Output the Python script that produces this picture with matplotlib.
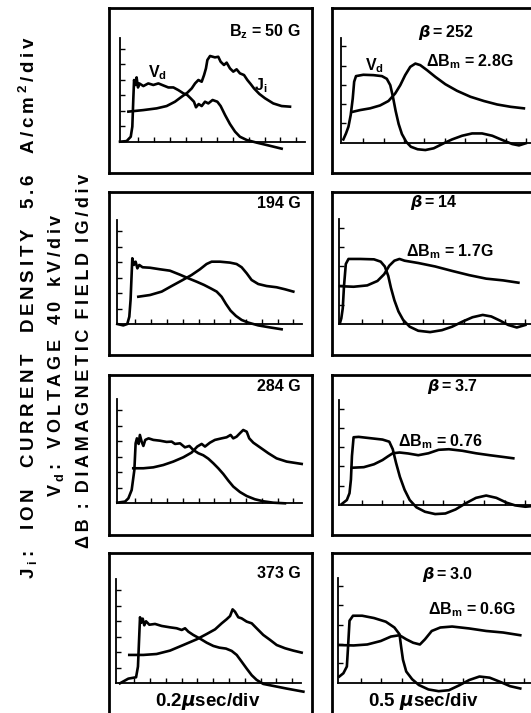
import re
import numpy as np
import matplotlib
matplotlib.use('Agg')
import matplotlib.pyplot as plt

# figure size in pixels (dpi 100)
W, H = 531, 713

plt.rcParams['font.family'] = ['Liberation Sans', 'DejaVu Sans']
plt.rcParams['font.weight'] = 'bold'
plt.rcParams['mathtext.default'] = 'regular'

# data, in scope divisions (x: time div, y: vertical div above baseline)
# left column : Vd and Ji, 0.2 usec/div
bz050_vd_x = [0, 0.42, 0.68, 0.78, 0.84, 0.89, 0.97, 1.05, 1.14, 1.22, 1.48, 1.79, 2.11, 2.43, 2.74, 3.06,
              3.38, 3.69, 4.01, 4.26, 4.47, 4.68, 4.81, 4.98, 5.17, 5.38, 5.59, 5.86, 6.16, 6.37, 6.65,
              6.96, 7.28, 7.59, 8.02, 8.65, 9.39, 10.23]
bz050_vd_y = [0, 0.04, 0.32, 0.97, 2.69, 3.98, 3.66, 4.15, 3.5, 3.76, 3.59, 3.76, 3.66, 3.76, 3.63, 3.5,
              3.5, 3.33, 3.12, 3.01, 2.8, 2.58, 2.22, 2.43, 2.3, 2.58, 2.47, 2.69, 2.58, 2.3, 1.72,
              1.14, 0.65, 0.32, 0.11, -0.06, -0.24, -0.45]
bz050_ji_x = [0.53, 1.48, 2.32, 2.95, 3.48, 3.90, 4.26, 4.54, 4.75, 4.96, 5.17, 5.32, 5.44, 5.53, 5.70,
              6.01, 6.22, 6.37, 6.58, 6.75, 6.96, 7.17, 7.38, 7.59, 7.85, 8.06, 8.27, 8.48, 8.82, 9.18,
              9.70, 10.23, 10.76]
bz050_ji_y = [1.94, 2.04, 2.15, 2.30, 2.58, 2.90, 3.16, 3.44, 3.76, 3.98, 3.87, 4.30, 4.73, 5.27, 5.53,
              5.44, 5.48, 5.16, 4.95, 5.10, 4.73, 4.52, 4.67, 4.41, 4.30, 3.98, 3.72, 3.44, 3.08, 2.80,
              2.47, 2.30, 2.26]

bz194_vd_x = [0, 0.38, 0.63, 0.76, 0.84, 0.91, 0.95, 1.05, 1.16, 1.27, 1.39, 1.60, 2.07, 2.70, 3.33, 3.97,
              4.49, 5.02, 5.49, 5.91, 6.29, 6.60, 6.88, 7.17, 7.51, 7.87, 8.29, 8.92, 9.66, 10.40]
bz194_vd_y = [0, -0.09, 0, 0.47, 1.55, 3.27, 4.24, 3.81, 4.02, 3.59, 3.81, 3.66, 3.63, 3.53, 3.44, 3.18,
              2.95, 2.73, 2.52, 2.30, 2.09, 1.76, 1.29, 0.86, 0.52, 0.26, 0.09, -0.09, -0.22, -0.34]
bz194_ji_x = [1.33, 2.07, 2.81, 3.44, 4.07, 4.70, 5.23, 5.65, 5.97, 6.50, 7.13, 7.55, 7.87, 8.19, 8.50,
              8.92, 9.45, 10.08, 10.61, 11.14]
bz194_ji_y = [1.76, 1.87, 2.09, 2.45, 2.80, 3.16, 3.53, 3.87, 4.02, 4.02, 3.96, 3.87, 3.66, 3.27, 2.84,
              2.58, 2.45, 2.37, 2.24, 2.09]

bz284_vd_x = [0, 0.49, 0.70, 0.91, 1.08, 1.16, 1.24, 1.35, 1.43, 1.54, 1.65, 1.77, 1.98, 2.28, 2.70, 3.12,
              3.44, 3.65, 3.97, 4.28, 4.56, 4.81, 5.13, 5.44, 5.76, 6.08, 6.39, 6.71, 7.03, 7.34, 7.76,
              8.19, 8.71, 9.24, 9.87, 10.61]
bz284_vd_y = [0.04, 0.11, 0.32, 0.86, 2.15, 3.87, 4.19, 3.83, 4.41, 3.98, 3.70, 4.09, 4.19, 4.09, 4.04, 3.96,
              3.98, 3.83, 3.87, 3.61, 3.70, 3.44, 3.23, 3.10, 2.88, 2.58, 2.26, 1.89, 1.46, 1.08, 0.73,
              0.47, 0.26, 0.13, 0.04, 0]
bz284_ji_x = [1.01, 1.65, 2.28, 2.91, 3.54, 4.18, 4.70, 5.06, 5.34, 5.55, 5.86, 6.18, 6.60, 6.92, 7.17,
              7.34, 7.55, 7.76, 7.97, 8.19, 8.35, 8.61, 9.03, 9.56, 10.08, 10.72, 11.67]
bz284_ji_y = [2.26, 2.26, 2.32, 2.47, 2.69, 2.97, 3.27, 3.66, 3.83, 3.66, 3.91, 4.09, 4.19, 4.26, 4.41,
              4.19, 4.30, 4.52, 4.73, 4.62, 4.19, 3.91, 3.61, 3.23, 2.90, 2.69, 2.54]

bz373_vd_x = [0.25, 0.78, 1.27, 1.39, 1.46, 1.52, 1.60, 1.69, 1.79, 1.90, 2.11, 2.47, 2.89, 3.42, 3.84,
              4.16, 4.37, 4.58, 4.89, 5.32, 5.74, 6.16, 6.54, 6.96, 7.32, 7.64, 7.95, 8.27, 8.59, 8.90,
              9.32, 9.96, 10.80, 11.86]
bz373_vd_y = [0, 0.30, 0.39, 1.08, 2.80, 4.26, 3.91, 4.17, 3.74, 4.00, 3.78, 3.83, 3.70, 3.61, 3.55,
              3.44, 3.55, 3.33, 3.12, 2.88, 2.62, 2.41, 2.30, 2.24, 2.09, 1.83, 1.40, 0.95, 0.52, 0.22,
              -0.04, -0.17, -0.34, -0.54]
bz373_ji_x = [0.84, 1.73, 2.57, 3.42, 4.26, 5.11, 5.74, 6.27, 6.69, 7.00, 7.22, 7.38, 7.53, 7.74, 7.95,
              8.27, 8.59, 8.90, 9.32, 9.75, 10.17, 10.70, 11.22, 11.75]
bz373_ji_y = [1.83, 1.83, 1.89, 2.11, 2.47, 2.84, 3.18, 3.48, 3.87, 4.13, 4.34, 4.77, 4.62, 4.26, 4.19,
              3.98, 3.87, 3.55, 3.12, 2.80, 2.47, 2.26, 2.11, 1.98]

# right column : Vd and diamagnetic field dB, 0.5 usec/div
b252_vd_x = [0.13, 0.26, 0.38, 0.49, 0.59, 0.66, 0.75, 1.11, 1.61, 2.02, 2.26, 2.43, 2.56, 2.69, 2.84,
             3.00, 3.21, 3.44, 3.77, 4.15, 4.56, 5.05, 5.46, 5.95, 6.44, 6.93, 7.43, 7.92, 8.41, 8.74, 9.07]
b252_vd_y = [0.17, 0.48, 0.83, 1.43, 2.29, 3.16, 3.45, 3.52, 3.50, 3.45, 3.31, 2.98, 2.38, 1.66, 0.97,
             0.45, 0.05, -0.21, -0.34, -0.38, -0.29, -0.03, 0.17, 0.36, 0.48, 0.48, 0.36, 0.14, -0.07,
             -0.14, -0.03]
b252_db_x = [0.59, 0.95, 1.44, 1.93, 2.34, 2.67, 2.92, 3.16, 3.41, 3.66, 3.90, 4.23, 4.64, 5.13, 5.70,
             6.36, 7.02, 7.67, 8.33, 8.98]
b252_db_y = [1.60, 1.69, 1.78, 1.93, 2.16, 2.55, 2.98, 3.50, 3.93, 4.10, 4.02, 3.76, 3.41, 3.03, 2.69,
             2.38, 2.16, 1.98, 1.86, 1.78]

b14_vd_x = [0.03, 0.10, 0.17, 0.23, 0.32, 0.45, 1.03, 1.70, 2.03, 2.23, 2.40, 2.53, 2.70, 2.90, 3.13,
            3.45, 3.87, 4.45, 5.03, 5.53, 6.03, 6.53, 7.03, 7.45, 7.87, 8.28, 8.70, 9.12]
b14_vd_y = [0.04, 0.30, 0.82, 1.96, 3.11, 3.37, 3.37, 3.35, 3.23, 2.98, 2.49, 1.88, 1.23, 0.65, 0.21,
            -0.14, -0.35, -0.42, -0.32, -0.14, 0.12, 0.35, 0.47, 0.39, 0.18, -0.05, -0.18, -0.05]
b14_db_x = [0.03, 0.70, 1.37, 1.87, 2.20, 2.45, 2.70, 2.95, 3.20, 3.87, 4.70, 5.53, 6.37, 7.20, 8.03, 8.78]
b14_db_y = [1.96, 1.93, 2.00, 2.23, 2.58, 3.02, 3.28, 3.37, 3.28, 3.16, 2.98, 2.75, 2.53, 2.35, 2.26, 2.14]

b37_vd_x = [0.12, 0.37, 0.50, 0.57, 0.62, 0.70, 0.95, 1.53, 2.12, 2.45, 2.62, 2.78, 2.97, 3.20, 3.45,
            3.78, 4.20, 4.70, 5.20, 5.70, 6.20, 6.70, 7.20, 7.70, 8.20, 8.62, 9.12, 9.53]
b37_vd_y = [0.05, 0.26, 0.61, 1.32, 2.54, 3.51, 3.53, 3.46, 3.39, 3.28, 2.89, 2.19, 1.46, 0.79, 0.26,
            -0.12, -0.35, -0.47, -0.44, -0.23, 0.09, 0.37, 0.49, 0.37, 0.12, -0.02, -0.09, -0.05]
b37_db_x = [0.62, 1.20, 1.70, 2.12, 2.37, 2.62, 2.95, 3.37, 3.87, 4.37, 4.87, 5.37, 6.03, 6.70, 7.37,
            8.03, 8.53]
b37_db_y = [1.93, 1.96, 2.11, 2.33, 2.51, 2.68, 2.72, 2.67, 2.58, 2.68, 2.86, 2.89, 2.81, 2.68, 2.58,
            2.49, 2.42]

b30_vd_x = [0.05, 0.25, 0.42, 0.48, 0.55, 0.72, 1.17, 1.75, 2.33, 2.75, 3.00, 3.08, 3.17, 3.33, 3.62,
            3.95, 4.42, 4.92, 5.42, 5.92, 6.42, 6.92, 7.42, 7.92, 8.42, 8.92]
b30_vd_y = [0.32, 0.49, 0.84, 1.89, 3.21, 3.47, 3.47, 3.35, 3.16, 2.86, 2.51, 1.86, 1.19, 0.58, 0.18,
            -0.12, -0.35, -0.44, -0.39, -0.14, 0.14, 0.32, 0.26, 0.05, -0.18, -0.30]
b30_db_x = [0.05, 0.75, 1.42, 2.08, 2.58, 3.00, 3.33, 3.67, 4.00, 4.25, 4.58, 5.00, 5.58, 6.42, 7.25,
            8.08, 8.92]
b30_db_y = [1.95, 1.93, 1.98, 2.16, 2.39, 2.46, 2.25, 2.07, 1.98, 2.25, 2.68, 2.86, 2.91, 2.81, 2.68,
            2.60, 2.46]

left_labels = ['B$_z$ = 50 G', '194 G', '284 G', '373 G']
beta_labels = ['$\\mathit{\\beta}$\u2009=\u2009252', '$\\mathit{\\beta}$\u2009=\u200914',
               '$\\mathit{\\beta}$\u2009=\u20093.7', '$\\mathit{\\beta}$\u2009=\u20093.0']
dbm_labels = ['\u0394B$_m$ = 2.8G', '\u0394B$_m$ = 1.7G', '\u0394B$_m$ = 0.76', '\u0394B$_m$ = 0.6G']
side_labels = ['J$_i$: ION CURRENT DENSITY 5.6 A/cm$^2$/div',
               'V$_d$: VOLTAGE 40 kV/div',
               '\u0394B : DIAMAGNETIC FIELD IG/div']
time_labels = ['0.2$\\mathit{\\mu}$sec/div', '0.5 $\\mathit{\\mu}$sec/div']

left_curves = [(bz050_vd_x, bz050_vd_y, bz050_ji_x, bz050_ji_y),
               (bz194_vd_x, bz194_vd_y, bz194_ji_x, bz194_ji_y),
               (bz284_vd_x, bz284_vd_y, bz284_ji_x, bz284_ji_y),
               (bz373_vd_x, bz373_vd_y, bz373_ji_x, bz373_ji_y)]
right_curves = [(b252_vd_x, b252_vd_y, b252_db_x, b252_db_y),
                (b14_vd_x, b14_vd_y, b14_db_x, b14_db_y),
                (b37_vd_x, b37_vd_y, b37_db_x, b37_db_y),
                (b30_vd_x, b30_vd_y, b30_db_x, b30_db_y)]

# layout, pixels
row_frames = [(8, 173), (192, 355), (375, 535), (553, 720)]
left_axis0 = [(120, 141.7), (117.3, 324), (117.3, 503.3), (116, 683.3)]
right_axis0 = [(340.7, 142.7), (339.3, 324), (339.3, 505), (338.3, 682.7)]
LDX, LDY = 15.8, 15.5
RDX, RDY = 20.4, 19.3


def px_box(l, t, r, b):
    return [l / W, 1 - b / H, (r - l) / W, (b - t) / H]


def ftext(x, y, s, **kw):
    return fig.text(x / W, 1 - y / H, s, **kw)


def spaced(s, gap, wordgap):
    # widen the lettering: gap between letters, wordgap between words
    words = []
    for w in s.split(' '):
        words.append(gap.join(re.findall(r'\$[^$]*\$|.', w)))
    return wordgap.join(words)


def add_frame(l, t, r, b):
    ax = fig.add_axes(px_box(l, t, r, b))
    ax.set_xticks([])
    ax.set_yticks([])
    ax.patch.set_alpha(0)
    for sp in ax.spines.values():
        sp.set_linewidth(2.0)
    return ax


def add_scope(x0, y0, dx, dy, xmax, ymin, ymax, xend, ytop, xt0):
    ax = fig.add_axes(px_box(x0, y0 - ymax * dy, x0 + xmax * dx, y0 - ymin * dy))
    ax.set_xlim(0, xmax)
    ax.set_ylim(ymin, ymax)
    ax.patch.set_alpha(0)
    ax.spines['top'].set_visible(False)
    ax.spines['right'].set_visible(False)
    ax.spines['bottom'].set_position(('data', 0))
    ax.spines['bottom'].set_bounds(0, xend)
    ax.spines['left'].set_bounds(0, ytop)
    for sp in ('bottom', 'left'):
        ax.spines[sp].set_linewidth(1.3)
    ax.set_xticks(np.arange(xt0, xend - 0.2, 1.0))
    ax.set_yticks(np.arange(1.0, ytop - 0.3, 1.0))
    ax.tick_params(direction='in', length=3.5, width=1.0, labelbottom=False, labelleft=False)
    return ax


fig = plt.figure(figsize=(W / 100, H / 100), dpi=100)

for i in range(4):
    t, b = row_frames[i]
    add_frame(109, t, 312, b)
    add_frame(332, t, 536, b)

    x0, y0 = left_axis0[i]
    ax = add_scope(x0, y0, LDX, LDY, 12.0, -1.6, 7.0, 11.7, 6.7, 1.15)
    vx, vy, jx, jy = left_curves[i]
    ax.plot(vx, vy, color='black', lw=1.9, solid_joinstyle='round', clip_on=False)
    ax.plot(jx, jy, color='black', lw=1.9, solid_joinstyle='round', clip_on=False)

    x0, y0 = right_axis0[i]
    ax = add_scope(x0, y0, RDX, RDY, 9.8, -1.2, 5.6, 9.8, 5.45, 1.1)
    vx, vy, bx, by = right_curves[i]
    ax.plot(vx, vy, color='black', lw=1.9, solid_joinstyle='round', clip_on=False)
    ax.plot(bx, by, color='black', lw=1.9, solid_joinstyle='round', clip_on=False)

# panel annotations
left_label_y = [32, 204, 386, 573]
for i in range(4):
    ftext(301, left_label_y[i], left_labels[i], ha='right', va='center', fontsize=11.5)

beta_xy = [(446, 33), (434, 202), (452, 386), (447, 574)]
dbm_xy = [(470, 62), (450, 252), (440, 442), (472, 610)]
for i in range(4):
    ftext(beta_xy[i][0], beta_xy[i][1], beta_labels[i], ha='center', va='center', fontsize=11.5)
    ftext(dbm_xy[i][0], dbm_xy[i][1], dbm_labels[i], ha='center', va='center', fontsize=11.5)

ftext(157, 73, 'V$_d$', ha='center', va='center', fontsize=11.5)
ftext(261, 86, 'J$_i$', ha='center', va='center', fontsize=11.5)
ftext(374, 66, 'V$_d$', ha='center', va='center', fontsize=11.5)

ftext(208, 702, time_labels[0], ha='center', va='center', fontsize=13.5)
ftext(423, 702, time_labels[1], ha='center', va='center', fontsize=13.5)

# rotated side labels, wide lettering as in the original
ftext(28, 307, spaced(side_labels[0], '\u2009', '    '), rotation=90, ha='center', va='center',
      fontsize=13.5)
ftext(56, 355, spaced(side_labels[1], '\u2009', '   '), rotation=90, ha='center', va='center',
      fontsize=13)
ftext(85, 361, spaced(side_labels[2], '\u2009', '  '), rotation=90, ha='center', va='center',
      fontsize=13)

fig.savefig('out.png', dpi=100, facecolor='white')
